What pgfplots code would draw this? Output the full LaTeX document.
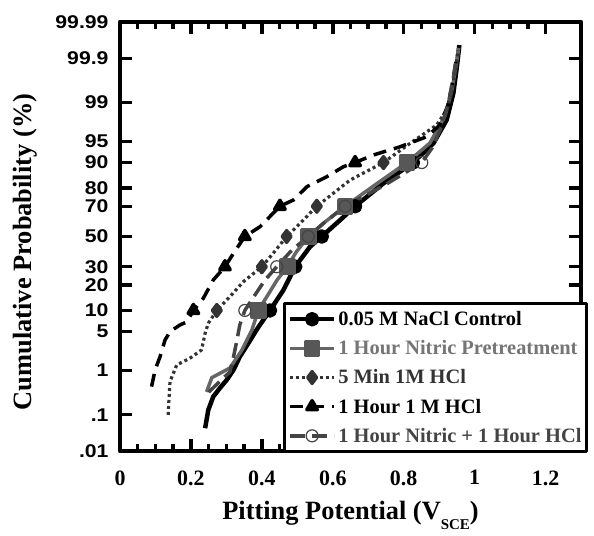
\documentclass[border=0pt]{standalone}
\usepackage{fontspec}
\setmainfont{Liberation Serif}
\setsansfont{Liberation Sans}
\newfontfamily\tickfont{Liberation Sans}[FakeStretch=1.15]
\usepackage{pgfplots}
\pgfplotsset{compat=1.18}
\usetikzlibrary{calc}
\definecolor{nitric}{HTML}{666666}
\definecolor{minhcl}{HTML}{333333}
\definecolor{combo}{HTML}{444444}

\begin{document}
\begin{tikzpicture}
\begin{axis}[
  scale only axis, width=461bp, height=429bp,
  xmin=0, xmax=1.3, ymin=-3.719, ymax=3.719,
  axis line style={line width=4.5bp},
  xtick={0,0.2,0.4,0.6,0.8,1,1.2},
  xticklabels={0,0.2,0.4,0.6,0.8,1,1.2},
  minor x tick num=3,
  % normal-probability positions (z scores) of the percent labels
  ytick={-3.719,-3.090,-2.326,-1.645,-1.2816,-0.8416,-0.5244,0,0.5244,0.8416,1.2816,1.645,2.326,3.090,3.719},
  yticklabels={.01,.1,1,5,10,20,30,50,70,80,90,95,99,99.9,99.99},
  tick align=inside,
  major tick length=12bp, minor tick length=7bp,
  tick style={black, line width=3.5bp},
  x tick label style={font=\fontsize{22}{22}\selectfont\bfseries, yshift=-16bp},
  y tick label style={font=\fontsize{18.5}{18.5}\selectfont\bfseries\tickfont, xshift=-8bp, inner ysep=0pt},
  xlabel={Pitting Potential (V\raisebox{-0.38em}{\fontsize{15}{15}\selectfont SCE})},
  ylabel={Cumulative Probability (\%)},
  label style={font=\fontsize{26.5}{27}\selectfont\bfseries},
  xlabel style={at={(axis description cs:0.5,-0.16)}, anchor=base},
  ylabel style={at={(axis description cs:-0.205,0.464)}, anchor=center},
  line join=round,
  legend style={at={(1.015,-0.005)}, anchor=south east, draw=black, line width=3bp,
    font=\fontsize{20.5}{22}\selectfont\bfseries, cells={anchor=west},
    inner xsep=3bp, inner ysep=6bp, row sep=9.5bp},
  legend image code/.code={\draw[#1, mark indices={2}] plot coordinates {(0bp,0bp) (22bp,0bp) (44bp,0bp)};},
]
\addplot[black, line width=4.5bp, mark=*, mark size=5bp, mark options={solid},
  mark indices={11,13,15,17,19}] coordinates {
  (0.240,-3.324) (0.249,-3.007) (0.263,-2.776) (0.282,-2.626) (0.301,-2.487)
  (0.320,-2.314) (0.338,-2.083) (0.362,-1.851) (0.385,-1.620) (0.404,-1.447)
  (0.423,-1.282) (0.461,-0.927) (0.494,-0.524) (0.536,-0.177) (0.569,0)
  (0.621,0.286) (0.663,0.524) (0.743,0.922) (0.826,1.282) (0.884,1.615)
  (0.921,2.019) (0.940,2.482) (0.950,2.943) (0.957,3.319)};
\addlegendentry{0.05 M NaCl Control}

\addplot[nitric, line width=3.5bp, mark=square*, mark size=6.5bp,
  mark options={solid, fill=nitric!85!black, draw=nitric!85!black},
  mark indices={6,9,11,13,15}] coordinates {
  (0.244,-2.695) (0.259,-2.447) (0.310,-2.280) (0.344,-1.967) (0.372,-1.620)
  (0.390,-1.282) (0.417,-1.014) (0.443,-0.754) (0.472,-0.524) (0.497,-0.269)
  (0.531,0) (0.578,0.251) (0.635,0.524) (0.719,0.893) (0.809,1.282)
  (0.874,1.620) (0.917,2.100) (0.936,2.540) (0.948,2.970) (0.955,3.270)};
\addlegendentry{\textcolor{nitric!90}{1 Hour Nitric Pretreatment}}

\addplot[minhcl, line width=3.2bp, dash pattern=on 3bp off 3bp, mark=diamond*, mark size=6bp,
  mark options={solid, fill=minhcl},
  mark indices={9,12,14,16,18}] coordinates {
  (0.136,-3.094) (0.138,-2.834) (0.141,-2.516) (0.160,-2.227) (0.197,-2.111)
  (0.230,-1.967) (0.240,-1.678) (0.249,-1.504) (0.273,-1.282) (0.310,-1.043)
  (0.348,-0.783) (0.400,-0.524) (0.432,-0.291) (0.470,0) (0.508,0.229)
  (0.555,0.524) (0.649,0.979) (0.743,1.282) (0.818,1.615) (0.893,1.932)
  (0.921,2.192) (0.936,2.539) (0.948,2.972) (0.953,3.232)};
\addlegendentry{\textcolor{minhcl}{5 Min 1M HCl}}

\addplot[black, line width=3.5bp, dash pattern=on 13bp off 8bp, mark=triangle*, mark size=6bp,
  mark options={solid},
  mark indices={8,11,13,15,20}] coordinates {
  (0.089,-2.603) (0.099,-2.314) (0.113,-2.083) (0.127,-1.794) (0.141,-1.650)
  (0.169,-1.534) (0.188,-1.482) (0.207,-1.282) (0.235,-1.071) (0.263,-0.754)
  (0.296,-0.524) (0.320,-0.291) (0.352,0) (0.395,0.170) (0.451,0.524)
  (0.489,0.633) (0.527,0.863) (0.583,1.036) (0.630,1.210) (0.663,1.282)
  (0.714,1.412) (0.790,1.556) (0.865,1.730) (0.902,1.932) (0.925,2.279)
  (0.939,2.712) (0.948,3.059)};
\addlegendentry{1 Hour 1 M HCl}

\addplot[combo, line width=3.5bp, dash pattern=on 15bp off 7bp, mark=o, mark size=6bp,
  mark options={solid, line width=1.2bp},
  mark indices={7,10,12,14,16}] coordinates {
  (0.250,-2.700) (0.290,-2.460) (0.310,-2.350) (0.318,-2.150) (0.328,-1.850)
  (0.338,-1.530) (0.352,-1.282) (0.381,-1.010) (0.409,-0.754) (0.442,-0.524)
  (0.485,-0.234) (0.531,0) (0.578,0.251) (0.635,0.524) (0.747,0.893)
  (0.851,1.282) (0.880,1.534) (0.905,1.880) (0.925,2.280) (0.939,2.710)
  (0.948,3.060)};
\addlegendentry{\textcolor{combo}{1 Hour Nitric + 1 Hour HCl}}

\coordinate (bl) at (rel axis cs:0,0);
\coordinate (tr) at (rel axis cs:1,1);
\end{axis}
\pgfresetboundingbox
\path ($(bl)+(-120bp,-85bp)$) rectangle ($(tr)+(13bp,22bp)$);
\end{tikzpicture}
\end{document}
